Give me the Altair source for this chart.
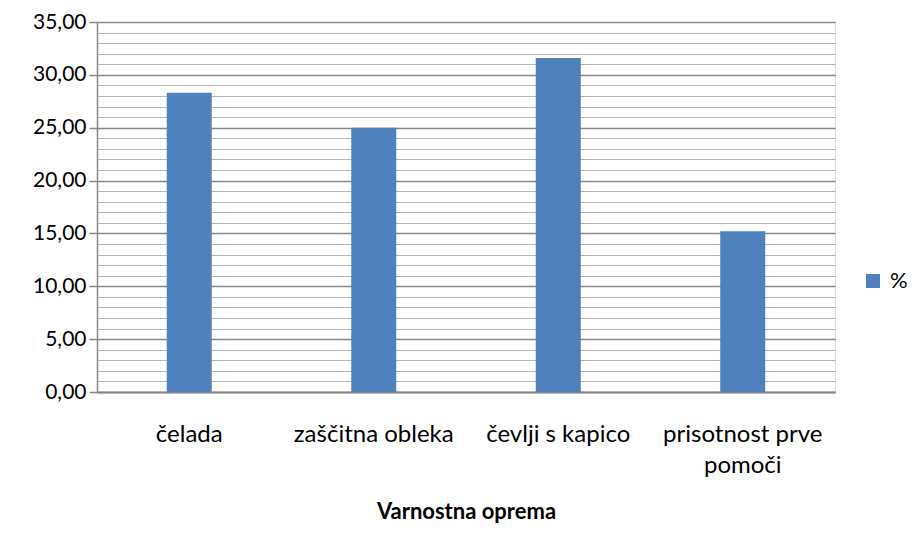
import altair as alt
import pandas as pd

categories = ["čelada", "zaščitna obleka", "čevlji s kapico", "prisotnost prve pomoči"]
values = [28.3, 25.0, 31.6, 15.2]
series_name = "%"
major_ticks = [0, 5, 10, 15, 20, 25, 30, 35]
minor_ticks = list(range(0, 36))

df = pd.DataFrame({"kategorija": categories, "vrednost": values, "serija": [series_name] * len(categories)})

FONT = "Lato"
yscale = alt.Scale(domain=[0, 35], nice=False, zero=True)
xscale = alt.Scale(paddingInner=0, paddingOuter=0)

x_axis = alt.Axis(title="Varnostna oprema", labelAngle=0, ticks=False,
                  domainColor="#868686", domainWidth=2,
                  labelFont=FONT, labelFontSize=24, labelColor="#000000",
                  labelPadding=30, labelLineHeight=31,
                  labelExpr="datum.value == 'prisotnost prve pomoči' ? ['prisotnost prve', 'pomoči'] : datum.label",
                  titleFont=FONT, titleFontSize=22, titleFontWeight="bold", titleColor="#000000",
                  titlePadding=24)
x_enc = alt.X("kategorija:N", sort=categories, scale=xscale, axis=x_axis)

base = alt.Chart(df)

minor = base.mark_bar(opacity=0).encode(
    x=x_enc,
    y=alt.Y("vrednost:Q", scale=yscale,
            axis=alt.Axis(values=minor_ticks, grid=True, gridColor="#b3b3b3", gridWidth=1.2,
                          labels=False, ticks=False, domain=False, title=None, orient="left")),
)

bars = base.mark_bar(size=45, color="#4f81bd").encode(
    x=x_enc,
    y=alt.Y("vrednost:Q", scale=yscale,
            axis=alt.Axis(values=major_ticks, grid=True, gridColor="#868686", gridWidth=1.5,
                          domainColor="#868686", domainWidth=1.5,
                          tickColor="#868686", tickSize=8, tickWidth=1.5,
                          labelFont=FONT, labelFontSize=21, labelColor="#000000", labelPadding=3,
                          labelExpr="replace(format(datum.value, '.2f'), '.', ',')",
                          title=None, orient="left")),
    fill=alt.Fill("serija:N", scale=alt.Scale(range=["#4f81bd"]),
                  legend=alt.Legend(title=None, orient="none", legendX=765, legendY=248,
                                    symbolType="square", symbolSize=196, symbolStrokeWidth=0,
                                    labelOffset=6,
                                    labelFont=FONT, labelFontSize=22, labelColor="#000000")),
)

chart = alt.layer(minor, bars).resolve_axis(y="independent").properties(
    width=738, height=370,
    autosize="none",
    padding={"left": 89, "top": 14, "right": 77, "bottom": 133},
).configure_view(stroke=None).configure(background="#ffffff")

chart.save("out.html", embed_options={"renderer": "svg", "actions": False})
